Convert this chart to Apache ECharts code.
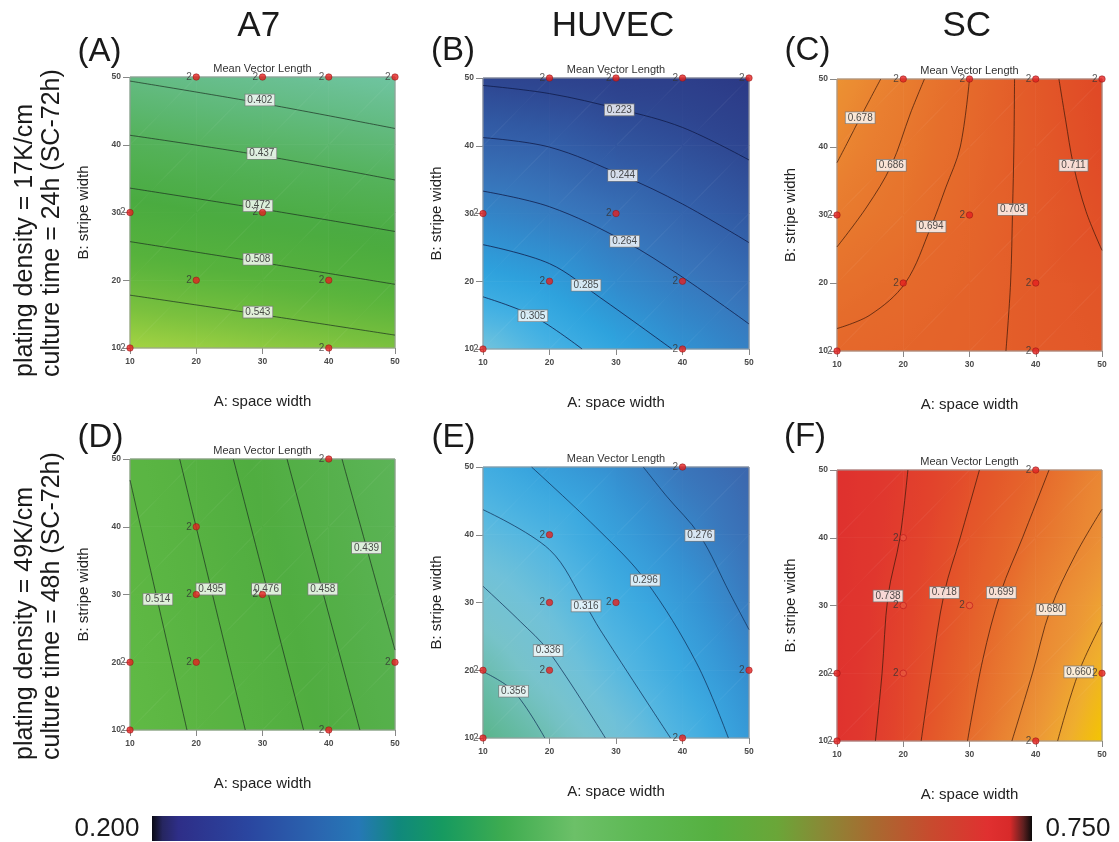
<!DOCTYPE html>
<html><head><meta charset="utf-8">
<script src="https://cdn.jsdelivr.net/npm/echarts@6/dist/echarts.min.js"></script>
<style>html,body{margin:0;padding:0;background:#fff}#c{width:1119px;height:842px}</style>
</head><body><div id="c"></div>
<script>
// ================= DATA =================
const spaceWidth  = [10, 20, 30, 40, 50];   // A: space width  (grid nodes, x)
const stripeWidth = [10, 20, 30, 40, 50];   // B: stripe width (grid nodes, y)
const tickValues  = [10, 20, 30, 40, 50];
const columnTitles = ['A7', 'HUVEC', 'SC'];
const panelLetters = ['(A)', '(B)', '(C)', '(D)', '(E)', '(F)'];
const rowLabels = [
  ['plating density = 17K/cm', 'culture time = 24h (SC-72h)'],
  ['plating density = 49K/cm', 'culture time = 48h (SC-72h)']
];
const colorbarTicks = ['0.200', '0.750'];

// surface values: rows = stripe width 10..50, columns = space width 10..50
const surfA = [
  [0.578, 0.572, 0.565, 0.559, 0.553],
  [0.533, 0.526, 0.520, 0.513, 0.506],
  [0.489, 0.481, 0.474, 0.467, 0.460],
  [0.444, 0.436, 0.429, 0.421, 0.413],
  [0.399, 0.391, 0.383, 0.375, 0.367]
];
const surfB = [
  [0.325, 0.311, 0.297, 0.283, 0.270],
  [0.2985, 0.291, 0.277, 0.265, 0.254],
  [0.273, 0.266, 0.257, 0.2466, 0.2366],
  [0.247, 0.2435, 0.2345, 0.228, 0.2194],
  [0.220, 0.217, 0.213, 0.210, 0.2024]
];
const surfC = [
  [0.696, 0.698, 0.700, 0.705, 0.708],
  [0.6895, 0.694, 0.699, 0.705, 0.7095],
  [0.683, 0.6885, 0.6975, 0.705, 0.713],
  [0.6765, 0.6855, 0.6955, 0.706, 0.716],
  [0.671, 0.682, 0.694, 0.707, 0.7175]
];
const surfD = [
  [0.532, 0.511, 0.490, 0.468, 0.447],
  [0.527, 0.5055, 0.484, 0.462, 0.4405],
  [0.522, 0.500, 0.478, 0.456, 0.434],
  [0.517, 0.4945, 0.472, 0.450, 0.4275],
  [0.512, 0.489, 0.466, 0.444, 0.421]
];
const surfE = [
  [0.370, 0.354, 0.3335, 0.3125, 0.290],
  [0.3557, 0.339, 0.319, 0.300, 0.281],
  [0.340, 0.326, 0.3065, 0.290, 0.272],
  [0.3225, 0.3115, 0.294, 0.279, 0.264],
  [0.305, 0.293, 0.282, 0.268, 0.257]
];
const surfF = [
  [0.754, 0.726, 0.698, 0.6695, 0.6405],
  [0.755, 0.729, 0.704, 0.679, 0.650],
  [0.756, 0.733, 0.7094, 0.685, 0.6624],
  [0.757, 0.737, 0.715, 0.695, 0.675],
  [0.758, 0.7393, 0.7208, 0.7031, 0.6806]
];

// contour levels, their traced lines [space, stripe] and label positions
const levelsA = ['0.402', '0.437', '0.472', '0.508', '0.543'];
const linesA = [
  [[10, 49.4], [30, 46.1], [50, 42.4]],
  [[10, 41.4], [30, 38.4], [50, 34.8]],
  [[10, 33.6], [30, 30.5], [50, 27.2]],
  [[10, 25.7], [30, 22.6], [50, 19.4]],
  [[10, 17.8], [30, 14.9], [50, 11.9]]
];
const labelPosA = [[29.6, 46.6], [29.9, 38.7], [29.3, 31.0], [29.3, 23.1], [29.3, 15.3]];

const levelsB = ['0.223', '0.244', '0.264', '0.285', '0.305'];
const linesB = [
  [[10, 48.9], [20, 47.7], [30.5, 45.4], [40, 42.7], [50, 37.9]],
  [[10, 41.2], [20, 39.8], [31, 35.6], [40, 31.4], [50, 25.7]],
  [[10, 33.3], [20, 31.0], [31.3, 25.9], [40, 20.6], [50, 13.7]],
  [[10, 25.4], [20, 22.6], [27.6, 17.6], [38.4, 10]],
  [[10, 17.7], [17.5, 14.9], [24.9, 10]]
];
const labelPosB = [[30.5, 45.3], [31, 35.6], [31.3, 25.9], [25.5, 19.4], [17.5, 14.9]];

const levelsC = ['0.678', '0.686', '0.694', '0.703', '0.711'];
const linesC = [
  [[16.6, 50], [13.5, 44.3], [11.5, 40.5], [10, 37.7]],
  [[23.2, 50], [21.1, 45], [18.2, 37.3], [14.5, 31.2], [10, 25.3]],
  [[30, 50], [28.6, 40], [26.4, 34], [24.2, 28.3], [20.3, 20], [15, 15.3], [10, 13.3]],
  [[36.8, 50], [36.7, 40], [36.5, 30.8], [36.2, 20], [35.5, 10]],
  [[43.5, 50], [44.5, 44], [45.7, 37.3], [47.6, 30.5], [50, 24.8]]
];
const labelPosC = [[13.5, 44.3], [18.2, 37.3], [24.2, 28.3], [36.5, 30.8], [45.7, 37.3]];

const levelsD = ['0.514', '0.495', '0.476', '0.458', '0.439'];
const linesD = [
  [[10, 46.9], [18.6, 10]],
  [[17.5, 50], [27.4, 10]],
  [[25.6, 50], [36.2, 10]],
  [[33.7, 50], [44.7, 10]],
  [[42, 50], [50, 21.8]]
];
const labelPosD = [[14.2, 29.3], [22.2, 30.8], [30.6, 30.8], [39.1, 30.8], [45.7, 36.9]];

const levelsE = ['0.276', '0.296', '0.316', '0.336', '0.356'];
const linesE = [
  [[34.1, 50], [37.6, 45.7], [42.6, 39.9], [47.1, 31.4], [50, 26]],
  [[17.3, 50], [27.6, 40.5], [34.4, 33.3], [42.1, 21.1], [46.9, 10]],
  [[10, 43.7], [20, 37.8], [25.5, 29.5], [27.6, 26.0], [38.2, 10]],
  [[10, 32.4], [15.6, 27.2], [19.8, 22.9], [28.4, 10]],
  [[10, 19.8], [14.6, 16.9], [19.3, 10]]
];
const labelPosE = [[42.6, 39.9], [34.4, 33.3], [25.5, 29.5], [19.8, 22.9], [14.6, 16.9]];

const levelsF = ['0.738', '0.718', '0.699', '0.680', '0.660'];
const linesF = [
  [[20.7, 50], [19.5, 40], [17.7, 31.4], [16.8, 20], [15.8, 10]],
  [[31.5, 50], [28.6, 40], [26.2, 31.9], [24.2, 20], [22.7, 10]],
  [[42, 50], [38, 40], [34.7, 31.9], [32, 22], [29.7, 10]],
  [[50, 44.2], [46, 37.5], [42.2, 29.4], [39.5, 20], [36.4, 10]],
  [[50, 27.5], [46.5, 20.2], [43.3, 10]]
];
const labelPosF = [[17.7, 31.4], [26.2, 31.9], [34.8, 31.9], [42.3, 29.4], [46.5, 20.2]];

// design points (each replicated twice -> label "2")
const replicateLabel = '2';
const designTop = [[20, 50], [30, 50], [40, 50], [50, 50], [10, 30], [30, 30], [20, 20], [40, 20], [10, 10], [40, 10]];
const designBottom = [[40, 50], [20, 40], [20, 30], [30, 30], [10, 20], [20, 20], [50, 20], [10, 10], [40, 10]];
const designBottomSolidF = [[40, 50], [10, 20], [50, 20], [10, 10], [40, 10]];
const designBottomHollowF = [[20, 40], [20, 30], [30, 30], [20, 20]];

// ================= STYLE =================
const FONT = 'Liberation Sans, Arial, Helvetica, sans-serif';
const ramps = {
  A: [[0.36, '#72c6a8'], [0.40, '#63bb82'], [0.44, '#54b25a'], [0.48, '#4aab40'], [0.52, '#58b33c'], [0.55, '#78c03e'], [0.58, '#a6d442']],
  B: [[0.20, '#2b3784'], [0.22, '#2e4590'], [0.24, '#325ca6'], [0.26, '#3874ba'], [0.28, '#318ecf'], [0.295, '#2ea3de'], [0.31, '#45b2e4'], [0.325, '#72c3dc']],
  C: [[0.67, '#ec9433'], [0.68, '#e98030'], [0.69, '#e6702c'], [0.70, '#e4622a'], [0.71, '#e25428'], [0.72, '#df4425']],
  D: [[0.42, '#5cb458'], [0.47, '#50ad40'], [0.53, '#60b944']],
  E: [[0.255, '#3b63aa'], [0.27, '#3a78bd'], [0.285, '#3593d3'], [0.30, '#3aa8e0'], [0.315, '#52b6e1'], [0.33, '#70c1d9'], [0.345, '#78c3cb'], [0.36, '#66bba4'], [0.372, '#56b486']],
  F: [[0.64, '#f3c600'], [0.655, '#efae2e'], [0.67, '#ec9636'], [0.685, '#e98132'], [0.70, '#e66a2c'], [0.715, '#e4562a'], [0.73, '#e2442c'], [0.745, '#e0372e'], [0.76, '#df302e']]
};
const lineColors = {
  A: 'rgba(25,40,30,0.75)', B: 'rgba(15,25,70,0.85)', C: 'rgba(60,25,10,0.8)',
  D: 'rgba(25,40,30,0.75)', E: 'rgba(15,45,85,0.8)', F: 'rgba(60,25,10,0.8)'
};
const panelBoxes = [
  { key: 'A', left: 130, top: 77, width: 265, height: 271 },
  { key: 'B', left: 483, top: 78, width: 266, height: 271 },
  { key: 'C', left: 837, top: 79, width: 265, height: 272 },
  { key: 'D', left: 130, top: 459, width: 265, height: 271 },
  { key: 'E', left: 483, top: 467, width: 266, height: 271 },
  { key: 'F', left: 837, top: 470, width: 265, height: 271 }
];

// ================= BUILD =================
function hexToRgb(h) { return [parseInt(h.slice(1, 3), 16), parseInt(h.slice(3, 5), 16), parseInt(h.slice(5, 7), 16)]; }
function colorAt(ramp, v) {
  if (v <= ramp[0][0]) return ramp[0][1];
  if (v >= ramp[ramp.length - 1][0]) return ramp[ramp.length - 1][1];
  for (let i = 0; i < ramp.length - 1; i++) {
    const a = ramp[i], b = ramp[i + 1];
    if (v >= a[0] && v <= b[0]) {
      const t = (v - a[0]) / (b[0] - a[0]);
      const ca = hexToRgb(a[1]), cb = hexToRgb(b[1]);
      const c = ca.map((x, k) => Math.round(x + (cb[k] - x) * t));
      return 'rgb(' + c.join(',') + ')';
    }
  }
  return ramp[0][1];
}
function tri(P0, P1, P2, v0, v1, v2, ramp) {
  const e1x = P1[0] - P0[0], e1y = P1[1] - P0[1], e2x = P2[0] - P0[0], e2y = P2[1] - P0[1];
  const d1 = v1 - v0, d2 = v2 - v0;
  const det = e1x * e2y - e1y * e2x;
  const gx = (d1 * e2y - d2 * e1y) / det, gy = (e1x * d2 - e2x * d1) / det;
  const g2 = gx * gx + gy * gy;
  const lo = Math.min(v0, v1, v2), hi = Math.max(v0, v1, v2);
  let fill;
  if (!isFinite(g2) || g2 < 1e-14 || hi - lo < 1e-9) {
    fill = colorAt(ramp, (lo + hi) / 2);
  } else {
    const sx = P0[0] + gx * (lo - v0) / g2, sy = P0[1] + gy * (lo - v0) / g2;
    const ex = P0[0] + gx * (hi - v0) / g2, ey = P0[1] + gy * (hi - v0) / g2;
    const stops = [], n = 6;
    for (let k = 0; k <= n; k++) stops.push({ offset: k / n, color: colorAt(ramp, lo + (hi - lo) * k / n) });
    fill = new echarts.graphic.LinearGradient(sx, sy, ex, ey, stops, true);
  }
  return { type: 'polygon', shape: { points: [P0, P1, P2] }, style: { fill: fill, stroke: fill, lineWidth: 0.8 } };
}

const surfaces = { A: surfA, B: surfB, C: surfC, D: surfD, E: surfE, F: surfF };
const levelSets = { A: levelsA, B: levelsB, C: levelsC, D: levelsD, E: levelsE, F: levelsF };
const lineSets = { A: linesA, B: linesB, C: linesC, D: linesD, E: linesE, F: linesF };
const labelSets = { A: labelPosA, B: labelPosB, C: labelPosC, D: labelPosD, E: labelPosE, F: labelPosF };

const grids = [], xAxes = [], yAxes = [], series = [], graphics = [];

panelBoxes.forEach((pb, gi) => {
  const key = pb.key;
  grids.push({ left: pb.left, top: pb.top, width: pb.width, height: pb.height });
  xAxes.push({
    gridIndex: gi, type: 'value', min: 10, max: 50, interval: 10,
    axisLine: { show: false }, splitLine: { show: false },
    axisTick: { show: true, length: 6, lineStyle: { color: '#888', width: 1 } },
    axisLabel: { fontSize: 8.5, fontWeight: 'bold', color: '#4a4a4a', margin: 9, fontFamily: FONT },
    name: 'A: space width', nameLocation: 'middle', nameGap: 46,
    nameTextStyle: { fontSize: 15, color: '#222', fontFamily: FONT }
  });
  yAxes.push({
    gridIndex: gi, type: 'value', min: 10, max: 50, interval: 10,
    axisLine: { show: false }, splitLine: { show: false },
    axisTick: { show: true, length: 7, lineStyle: { color: '#888', width: 1 } },
    axisLabel: { fontSize: 8.5, fontWeight: 'bold', color: '#4a4a4a', margin: 9, fontFamily: FONT },
    name: 'B: stripe width', nameLocation: 'middle', nameGap: 39,
    nameTextStyle: { fontSize: 15, color: '#222', fontFamily: FONT }
  });

  // surface cells
  const surf = surfaces[key], ramp = ramps[key];
  const cells = [];
  for (let j = 0; j < stripeWidth.length - 1; j++)
    for (let i = 0; i < spaceWidth.length - 1; i++)
      cells.push([spaceWidth[i], stripeWidth[j], spaceWidth[i + 1], stripeWidth[j + 1],
        surf[j][i], surf[j][i + 1], surf[j + 1][i], surf[j + 1][i + 1]]);
  series.push({
    type: 'custom', xAxisIndex: gi, yAxisIndex: gi, z: 1, silent: true, data: cells,
    renderItem: function (params, api) {
      const x0 = api.value(0), y0 = api.value(1), x1 = api.value(2), y1 = api.value(3);
      const v00 = api.value(4), v10 = api.value(5), v01 = api.value(6), v11 = api.value(7);
      const p00 = api.coord([x0, y0]), p10 = api.coord([x1, y0]), p01 = api.coord([x0, y1]), p11 = api.coord([x1, y1]);
      return { type: 'group', children: [tri(p00, p10, p11, v00, v10, v11, ramp), tri(p00, p11, p01, v00, v11, v01, ramp)] };
    }
  });
  // frame
  series.push({
    type: 'custom', xAxisIndex: gi, yAxisIndex: gi, z: 2, silent: true,
    data: [[spaceWidth[0], stripeWidth[0], spaceWidth[spaceWidth.length - 1], stripeWidth[stripeWidth.length - 1]]],
    renderItem: function (params, api) {
      const a = api.coord([api.value(0), api.value(1)]), b = api.coord([api.value(2), api.value(3)]);
      return { type: 'rect', shape: { x: a[0], y: b[1], width: b[0] - a[0], height: a[1] - b[1] },
        style: { fill: 'none', stroke: '#9a9a9a', lineWidth: 1 } };
    }
  });
  // contour lines
  lineSets[key].forEach(pts => {
    series.push({
      type: 'line', xAxisIndex: gi, yAxisIndex: gi, z: 3, silent: true, data: pts,
      smooth: 0.35, symbol: 'none', lineStyle: { color: lineColors[key], width: 0.9 }
    });
  });
  // contour labels
  const levels = levelSets[key];
  series.push({
    type: 'scatter', xAxisIndex: gi, yAxisIndex: gi, z: 4, silent: true, clip: false,
    data: labelSets[key], symbolSize: 1, itemStyle: { color: 'rgba(0,0,0,0)' },
    label: {
      show: true, position: 'inside', formatter: p => levels[p.dataIndex],
      backgroundColor: '#fff', borderColor: '#7a7a7a', borderWidth: 0.8,
      padding: [1, 2, 0, 2], fontSize: 10, lineHeight: 10, color: '#222', fontFamily: FONT
    }
  });
  // design points
  const ptLabel = { show: true, position: 'left', distance: 1, formatter: replicateLabel, fontSize: 10, color: '#333', fontFamily: FONT };
  let solid, hollow = [];
  if (gi < 3) solid = designTop;
  else if (key === 'F') { solid = designBottomSolidF; hollow = designBottomHollowF; }
  else solid = designBottom;
  series.push({
    type: 'scatter', xAxisIndex: gi, yAxisIndex: gi, z: 6, silent: true, clip: false,
    data: solid, symbolSize: 6.5,
    itemStyle: { color: '#e3211f', borderColor: '#8a1010', borderWidth: 0.6 }, label: ptLabel
  });
  if (hollow.length) series.push({
    type: 'scatter', xAxisIndex: gi, yAxisIndex: gi, z: 6, silent: true, clip: false,
    data: hollow, symbolSize: 6.5,
    itemStyle: { color: 'rgba(240,120,90,0.35)', borderColor: '#c42020', borderWidth: 1 }, label: ptLabel
  });

  // "Mean Vector Length" title
  graphics.push({ type: 'text', x: pb.left + pb.width / 2, y: pb.top - 8,
    style: { text: 'Mean Vector Length', fontSize: 11, fontFamily: FONT, fill: '#333',
      align: 'center', verticalAlign: 'middle', textAlign: 'center', textVerticalAlign: 'middle' } });
});

// panel letters & column titles
const letterPos = [[99.5, 51.5], [453, 51], [807.5, 50.5], [100.5, 437.5], [453.5, 438], [805, 437]];
panelLetters.forEach((t, i) => graphics.push({ type: 'text', x: letterPos[i][0], y: letterPos[i][1],
  style: { text: t, fontSize: 33, fontFamily: FONT, fill: '#1a1a1a', align: 'center', verticalAlign: 'middle', textAlign: 'center', textVerticalAlign: 'middle' } }));
const titleX = [258.7, 613, 966.7];
columnTitles.forEach((t, i) => graphics.push({ type: 'text', x: titleX[i], y: 26,
  style: { text: t, fontSize: 35, fontFamily: FONT, fill: '#1a1a1a', align: 'center', verticalAlign: 'middle', textAlign: 'center', textVerticalAlign: 'middle' } }));
// row labels (rotated)
const rowStartY = [377, 760];
const rowLineX = [25, 52];
rowLabels.forEach((lines, r) => lines.forEach((t, k) => graphics.push({
  type: 'text', x: rowLineX[k], y: rowStartY[r], rotation: Math.PI / 2,
  style: { text: t, fontSize: 25, fontFamily: FONT, fill: '#1a1a1a', align: 'left', verticalAlign: 'middle', textAlign: 'left', textVerticalAlign: 'middle' }
})));
// colour bar
graphics.push({
  type: 'rect', shape: { x: 152, y: 816, width: 880, height: 25 },
  style: { fill: new echarts.graphic.LinearGradient(0, 0, 1, 0, [
    { offset: 0, color: '#0a0a14' }, { offset: 0.012, color: '#262660' }, { offset: 0.03, color: '#2e2e88' },
    { offset: 0.11, color: '#2a46a0' }, { offset: 0.19, color: '#2a66b0' }, { offset: 0.235, color: '#2678b6' },
    { offset: 0.28, color: '#10887c' }, { offset: 0.33, color: '#169a60' }, { offset: 0.40, color: '#3eac50' },
    { offset: 0.48, color: '#6cc068' }, { offset: 0.56, color: '#5cb852' }, { offset: 0.64, color: '#56b040' },
    { offset: 0.71, color: '#6aa638' }, { offset: 0.76, color: '#888a36' }, { offset: 0.82, color: '#a86a30' },
    { offset: 0.886, color: '#c84a2e' }, { offset: 0.95, color: '#e03030' }, { offset: 0.975, color: '#d82a2a' },
    { offset: 0.99, color: '#602020' }, { offset: 1, color: '#0a0a0a' }
  ]) }
});
graphics.push({ type: 'text', x: 107, y: 829, style: { text: colorbarTicks[0], fontSize: 26, fontFamily: FONT, fill: '#1a1a1a', align: 'center', verticalAlign: 'middle', textAlign: 'center', textVerticalAlign: 'middle' } });
graphics.push({ type: 'text', x: 1078, y: 829, style: { text: colorbarTicks[1], fontSize: 26, fontFamily: FONT, fill: '#1a1a1a', align: 'center', verticalAlign: 'middle', textAlign: 'center', textVerticalAlign: 'middle' } });

const chart = echarts.init(document.getElementById('c'), null, { renderer: 'canvas' });
chart.setOption({
  animation: false,
  backgroundColor: '#ffffff',
  textStyle: { fontFamily: FONT },
  grid: grids, xAxis: xAxes, yAxis: yAxes, series: series, graphic: graphics
});
</script></body></html>
